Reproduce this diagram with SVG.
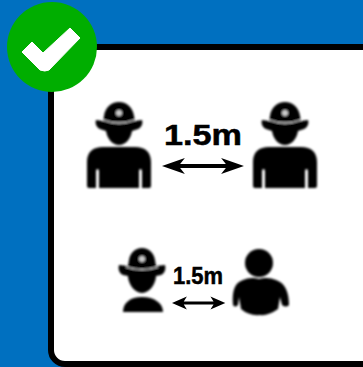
<svg xmlns="http://www.w3.org/2000/svg" width="363" height="367" viewBox="0 0 363 367">
<style>
.t{font-family:"Liberation Sans",Arial,sans-serif;font-weight:700;fill:#000;stroke:#000;stroke-width:.5}
</style>
<defs>
<filter id="b" x="-10%" y="-10%" width="120%" height="120%"><feGaussianBlur stdDeviation="0.9"/></filter>
<g id="ff">
<path d="M119 102c-8 0-14 6-15 14l-1 5-7-1c-1 3 0 7 4 9l6 2c1 7 6 14 13 14s12-7 13-14l6-2c4-2 5-6 4-9l-7 1-1-5c-1-8-7-14-15-14z"/>
<path d="M103 120q16 6 32 0" fill="none" stroke="#fff" stroke-width="1.300" opacity=".85"/>
<circle cx="119" cy="113" r="3" fill="#ccc"/>
<path d="M87 186v-24c0-10 6-15 16-15h32c10 0 16 5 16 15v24q0 2-2 2h-7v-16q0-3-1.500-3t-1.500 3v16h-40v-16q0-3-1.500-3t-1.500 3v16h-7q-2 0-2-2z"/>
</g>
<path id="ar" d="M0 0l24-8-5 6h48l-5-6 24 8-24 8 5-6h-48l5 6z"/>
</defs>
<rect id="background" width="363" height="367" fill="#0070c0"/>
<g id="card">
<rect x="51" y="47" width="330" height="317" rx="14" fill="#fff" stroke="#000" stroke-width="6"/>
</g>
<g id="top-pair">
<g id="firefighter-left" filter="url(#b)"><use href="#ff"/></g>
<g id="firefighter-right" filter="url(#b)"><use href="#ff" x="166"/></g>
<text class="t" x="164" y="145" font-size="29" textLength="78" lengthAdjust="spacingAndGlyphs">1.5m</text>
</g>
<g id="bottom-pair">
<g id="firefighter-small" filter="url(#b)">
<path d="M142 248c-7 0-12 5-13 12l-1 6-9-1c-1 4 0 8 4 10l5 1c0 7 6 17 14 17s14-10 14-17l5-1c4-2 5-6 4-10l-9 1-1-6c-1-7-6-12-13-12z"/>
<path d="M126 267q16 5 32 0" fill="none" stroke="#fff" stroke-width="1.200" opacity=".85"/>
<circle cx="142" cy="259" r="3" fill="#ccc"/>
<path d="M123 312c0-9 7-15 19-15s21 6 21 15z"/>
</g>
<g id="person" filter="url(#b)">
<circle cx="259" cy="263" r="14"/>
<path d="M233 305c-1-13 1-22 10-25 5-2 9-3 16-1 7-2 12-1 17 1 9 3 13 12 13 25q-3 3-7 0l-2-8-2 12q-10 7-18 6-11 1-19-6l-2-12-1 8q-3 3-5 0z"/>
</g>
<text class="t" x="173" y="284" font-size="24" textLength="50" lengthAdjust="spacingAndGlyphs">1.5m</text>
</g>
<g id="connectors">
<use href="#ar" transform="translate(162 166) scale(0.953 1)"/>
<use href="#ar" transform="translate(172 303) scale(0.62 0.8)"/>
</g>
<g id="check-badge">
<circle cx="52" cy="47" r="45" fill="#00ae00"/>
<path d="M22 52l10-10 11 11 27-25 10 10-31 32q-4 2-9 0z" fill="#fff" stroke="#fff" stroke-width="1" stroke-linejoin="round"/>
</g>
</svg>
